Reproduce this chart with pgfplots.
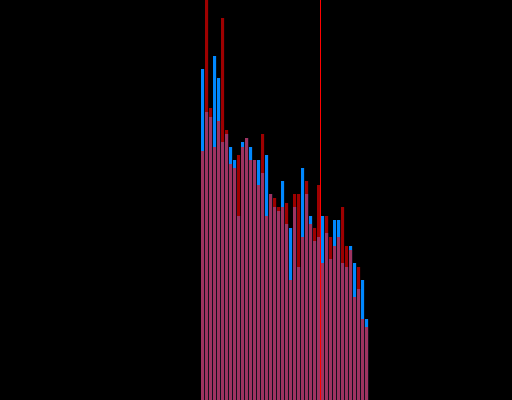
\documentclass[border=0pt]{standalone}
\usepackage{pgfplots}
\pgfplotsset{compat=1.18}
\usepackage{pgfplotstable}
\definecolor{barblue}{RGB}{0,136,255}
\definecolor{barred}{RGB}{255,0,0}
\pgfplotstableread{
x blue red
0 331 249
1 288 430
2 283 292
3 344 253
4 322 279
5 258 382
6 266 270
7 253 236
8 240 232
9 184 245
10 258 253
11 262 262
12 253 240
13 240 240
14 240 215
15 227 266
16 245 184
17 206 206
18 193 202
19 189 193
20 219 193
21 176 197
22 172 120
23 193 206
24 133 206
25 232 163
26 206 219
27 184 176
28 159 172
29 163 215
30 184 137
31 167 184
32 141 163
33 180 154
34 180 163
35 137 193
36 133 154
37 154 150
38 137 103
39 111 133
40 120 81
41 81 73
}\datatable
\begin{document}
\begin{tikzpicture}
\fill[black] (0,0) rectangle (5.12in,4in);
\begin{axis}[
  at={(0,0)}, anchor=south west,
  scale only axis, width=5.12in, height=4in,
  hide axis,
  xmin=-50.625, xmax=77.375,
  ymin=0, ymax=400,
  clip=true,
]
\addplot[ybar, bar width=0.75, bar shift=0pt, fill=barblue, draw=none] table[x=x, y=blue] {\datatable};
\addplot[ybar, bar width=0.75, bar shift=0pt, fill=barred, fill opacity=0.62, draw=none] table[x=x, y=red] {\datatable};
\addplot[barred, line width=0.72pt] coordinates {(29.5,0) (29.5,420)};
\end{axis}
\end{tikzpicture}
\end{document}
